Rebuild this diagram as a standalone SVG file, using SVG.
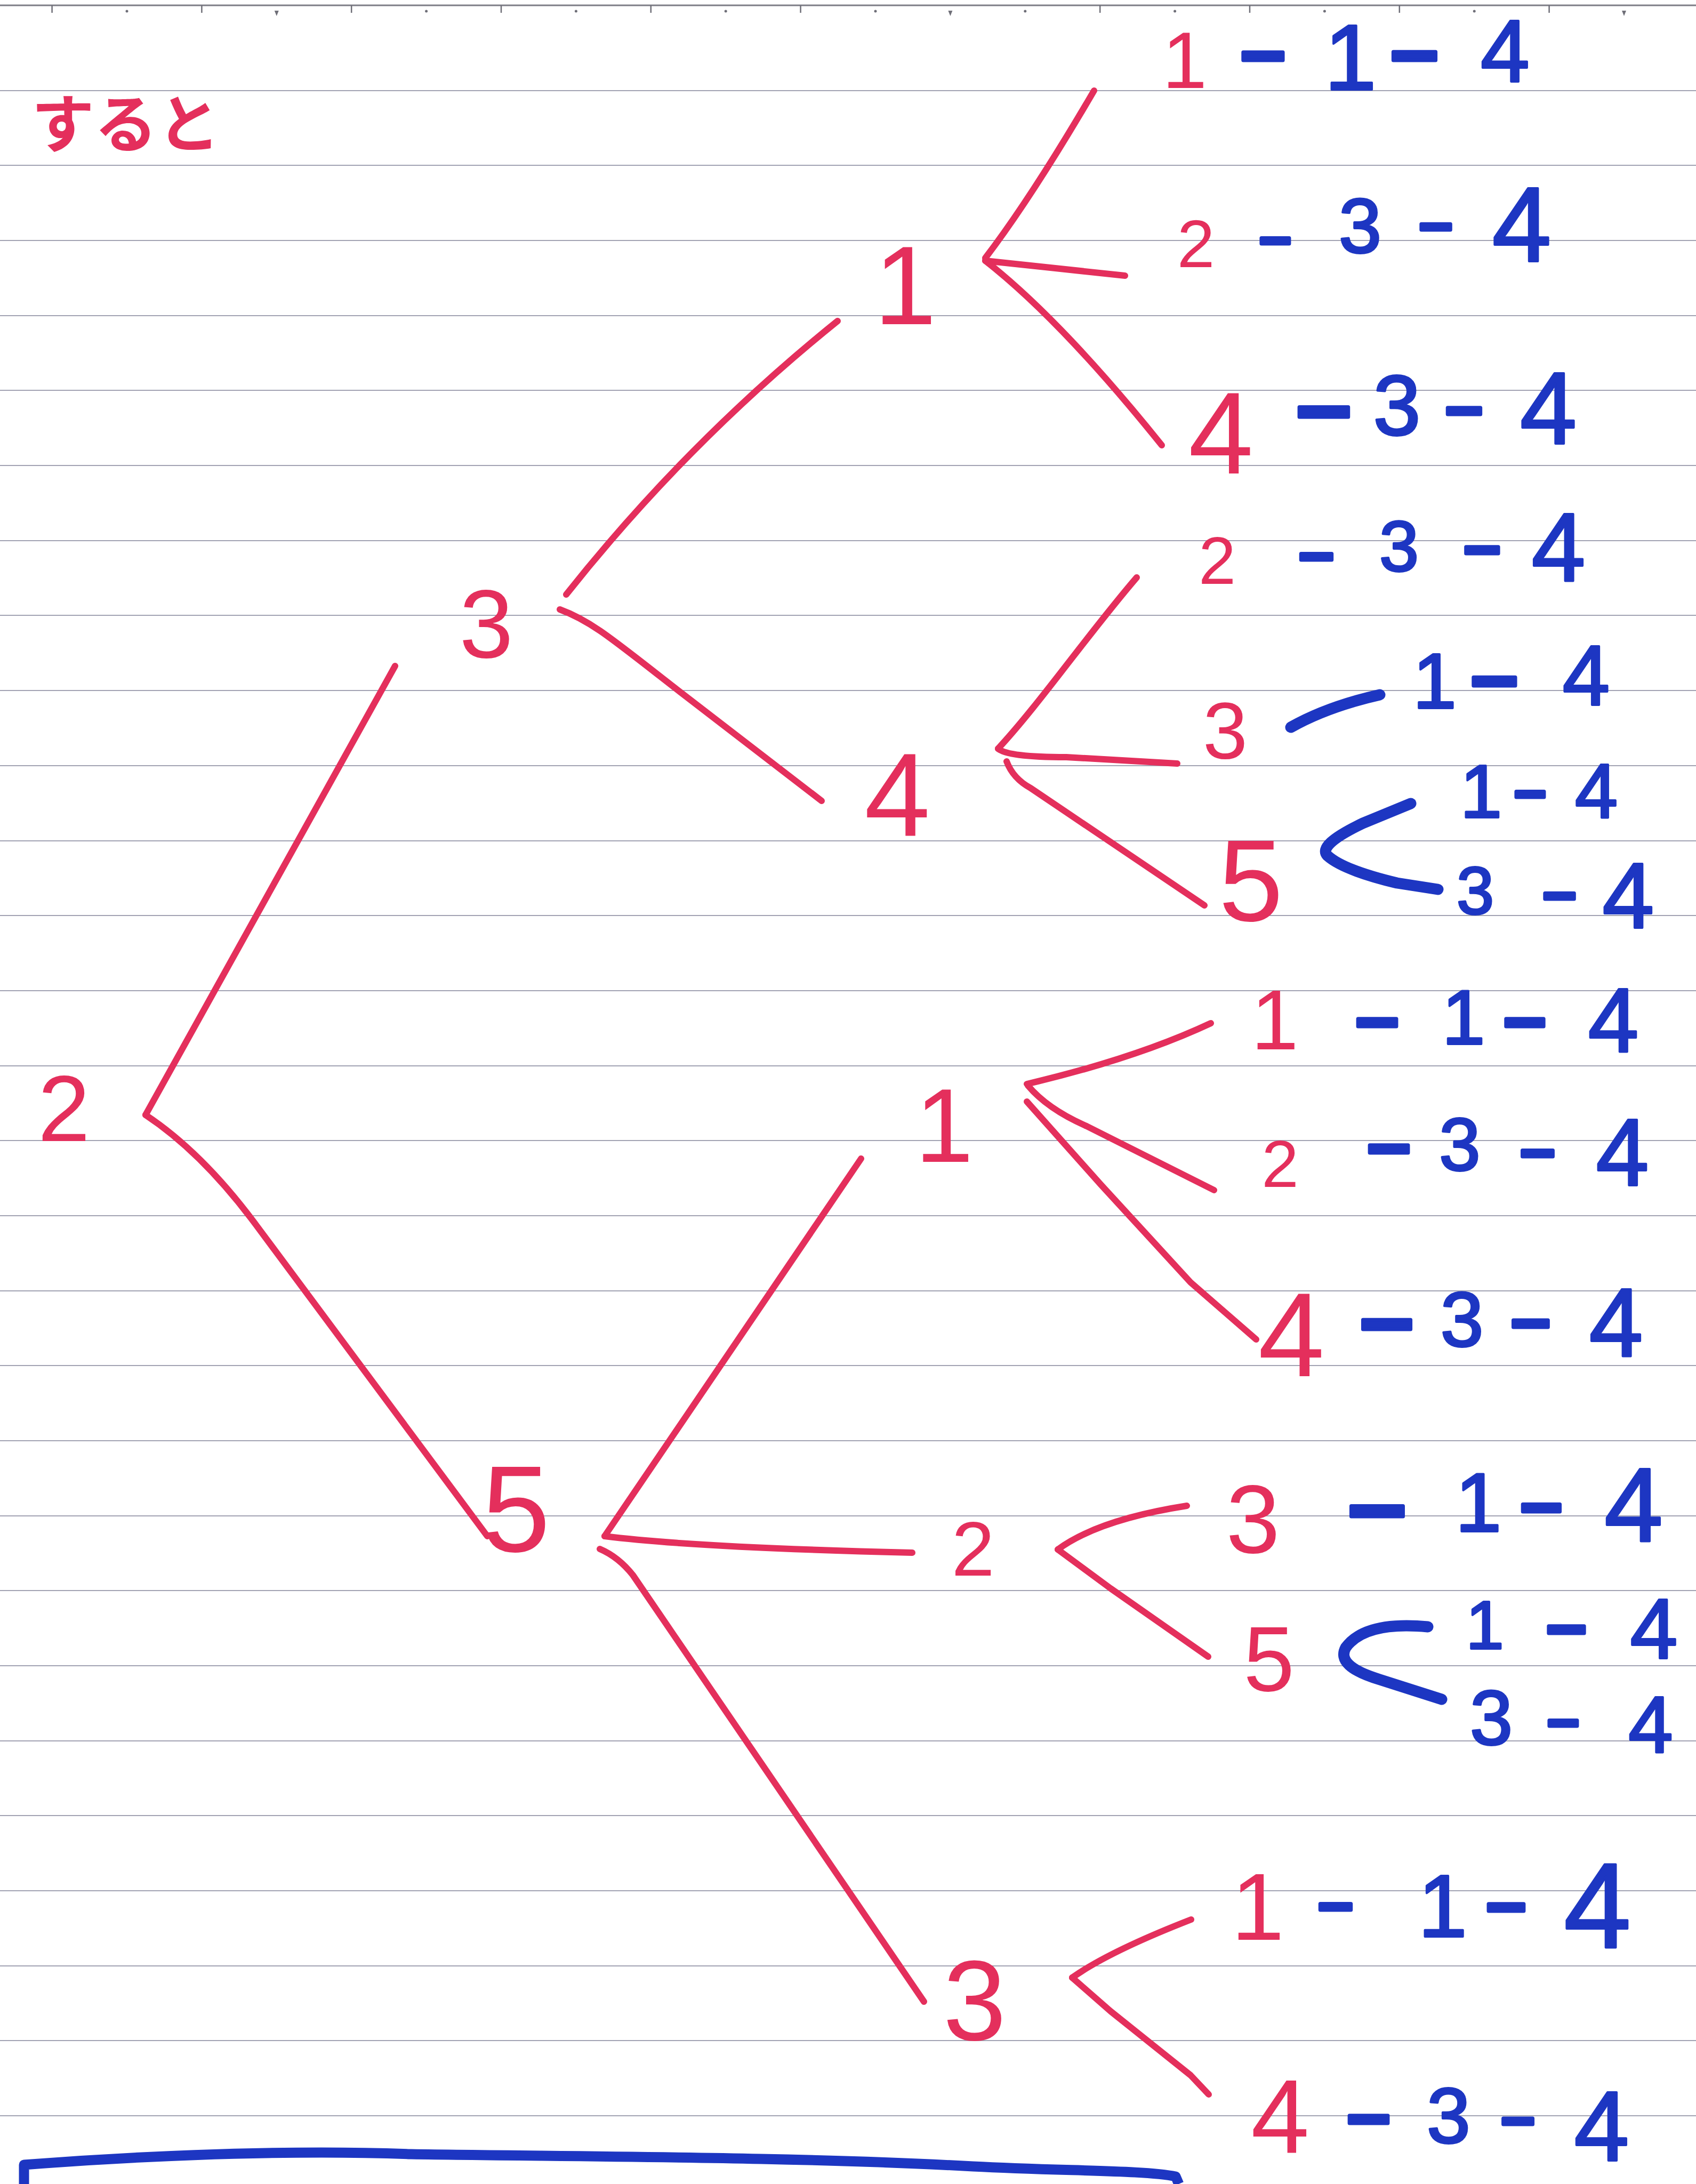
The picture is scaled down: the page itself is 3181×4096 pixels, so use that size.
<svg xmlns="http://www.w3.org/2000/svg" width="3181" height="4096" viewBox="0 0 3181 4096">
<defs>
<style>
text { font-family: "Liberation Sans", Arial, sans-serif; text-anchor: middle; }
.r { fill: #e42f5c; stroke: none; }
.b { fill: #1d36c2; stroke: #1d36c2; stroke-width: 4; stroke-linejoin: round; }
.d { font-weight: 700; stroke-width: 7; }
.jp { font-family: "Noto Sans CJK JP", "Noto Sans", sans-serif; text-anchor: start; font-weight: 700; fill: #e42f5c; }
.lr { stroke: #e42f5c; stroke-width: 12; fill: none; stroke-linecap: round; stroke-linejoin: round; }
.lb { stroke: #1d36c2; stroke-width: 21; fill: none; stroke-linecap: round; stroke-linejoin: round; }
.rule { stroke: #a2a3b3; stroke-width: 2; fill: none; }
.tick { stroke: #6f6f78; stroke-width: 2.5; fill: none; }
</style>
</defs>
<rect width="3181" height="4096" fill="#ffffff"/>
<g id="paper">
<line x1="0" y1="10" x2="3181" y2="10" stroke="#7d7d86" stroke-width="3"/>
<path class="tick" d="M97.6 10 V24 M378.4 10 V24 M659.2 10 V24 M940 10 V24 M1220.8 10 V24 M1501.6 10 V24 M2063.2 10 V24 M2344 10 V24 M2624.8 10 V24 M2905.6 10 V24"/>
<g fill="#6f6f78">
<circle cx="238" cy="21" r="2.5"/><circle cx="799.6" cy="21" r="2.5"/><circle cx="1080.4" cy="21" r="2.5"/><circle cx="1361.2" cy="21" r="2.5"/><circle cx="1642" cy="21" r="2.5"/><circle cx="1922.8" cy="21" r="2.5"/><circle cx="2203.6" cy="21" r="2.5"/><circle cx="2484.4" cy="21" r="2.5"/><circle cx="2765.2" cy="21" r="2.5"/>
<path d="M514.8 20 H522.8 L518.8 30 Z M1778.4 20 H1786.4 L1782.4 30 Z M3042 20 H3050 L3046 30 Z"/>
</g>
<path class="rule" d="M0 170 H3181 M0 310 H3181 M0 451 H3181 M0 592 H3181 M0 732 H3181 M0 873 H3181 M0 1014 H3181 M0 1154 H3181 M0 1295 H3181 M0 1436 H3181 M0 1577 H3181 M0 1717 H3181 M0 1858 H3181 M0 1999 H3181 M0 2139 H3181 M0 2280 H3181 M0 2421 H3181 M0 2561 H3181 M0 2702 H3181 M0 2843 H3181 M0 2983 H3181 M0 3124 H3181 M0 3265 H3181 M0 3405 H3181 M0 3546 H3181 M0 3687 H3181 M0 3827 H3181 M0 3968 H3181"/>
</g>
<g id="title"><text class="jp" x="59" y="276" font-size="118">すると</text></g>
<g id="connectors">
<path class="lr" d="M273 2091 L741 1249"/>
<path class="lr" d="M273 2091 Q380 2162 480 2297 L914 2881"/>
<path class="lr" d="M1062 1115 Q1288 830 1571 602"/>
<path class="lr" d="M1050 1143 C1110 1165 1150 1200 1276 1298 L1541 1502"/>
<path class="lr" d="M1848 484 Q1935 370 2052 170"/>
<path class="lr" d="M1848 489 L2110 517"/>
<path class="lr" d="M1848 489 Q1990 600 2179 835"/>
<path class="lr" d="M1872 1404 C1950 1320 2040 1190 2132 1083"/>
<path class="lr" d="M1872 1404 Q1890 1420 2000 1420 L2208 1432"/>
<path class="lr" d="M1888 1428 Q1900 1460 1933 1478 L2259 1698"/>
<path class="lr" d="M1134 2881 L1615 2173"/>
<path class="lr" d="M1134 2881 Q1300 2902 1711 2912"/>
<path class="lr" d="M1125 2905 Q1160 2920 1187 2954 L1733 3754"/>
<path class="lr" d="M1926 2033 Q2130 1985 2271 1919"/>
<path class="lr" d="M1928 2036 Q1965 2080 2038 2112 L2277 2232"/>
<path class="lr" d="M1926 2066 L2065 2222 L2233 2405 L2356 2512"/>
<path class="lr" d="M1984 2906 Q2060 2850 2226 2824"/>
<path class="lr" d="M1984 2906 L2083 2979 L2266 3107"/>
<path class="lr" d="M2011 3709 Q2080 3660 2234 3600"/>
<path class="lr" d="M2011 3709 L2083 3772 L2233 3892 L2267 3928"/>
<path class="lb" d="M2421 1364 Q2490 1325 2588 1303"/>
<path class="lb" d="M2646 1507 L2556 1544 Q2470 1585 2490 1605 Q2520 1632 2620 1656 L2697 1668"/>
<path class="lb" d="M2678 3051 Q2560 3040 2524 3090 Q2505 3125 2588 3150 L2704 3187"/>
</g>
<g id="nodes">
<g id="n-root"><text class="r" x="120" y="2140" font-size="176">2</text></g>
<g id="n-3a"><text class="r" x="912" y="1233" font-size="182">3</text></g>
<g id="n-1a"><text class="r" x="1698" y="608" font-size="210">1</text></g>
<g id="n-4a"><text class="r" x="1683" y="1568" font-size="222">4</text></g>
<g id="n-5"><text class="r" x="968" y="2910" font-size="230">5</text></g>
<g id="n-1b"><text class="r" x="1771" y="2179" font-size="196">1</text></g>
<g id="n-2b"><text class="r" x="1825" y="2955" font-size="145">2</text></g>
<g id="n-3b"><text class="r" x="1828" y="3826" font-size="213">3</text></g>
</g>
<g id="leaves">
<g id="leaf-a"><text class="b"><tspan class="r" x="2222" y="165" font-size="151">1</tspan><tspan class="d" x="2369" y="146" font-size="150">–</tspan><tspan x="2533" y="168" font-size="175">1</tspan><tspan class="d" x="2653" y="148" font-size="160">–</tspan><tspan x="2823" y="153" font-size="165">4</tspan></text></g>
<g id="leaf-b"><text class="b"><tspan class="r" x="2243" y="501" font-size="127">2</tspan><tspan class="d" x="2392" y="480" font-size="105">–</tspan><tspan x="2551" y="474" font-size="144">3</tspan><tspan class="d" x="2693" y="455" font-size="110">–</tspan><tspan x="2854" y="490" font-size="199">4</tspan></text></g>
<g id="leaf-c"><text class="b"><tspan class="r" x="2290" y="888" font-size="219">4</tspan><tspan class="d" x="2483" y="823" font-size="185">–</tspan><tspan x="2620" y="815" font-size="160">3</tspan><tspan class="d" x="2746" y="804" font-size="124">–</tspan><tspan x="2904" y="832" font-size="191">4</tspan></text></g>
<g id="leaf-d"><text class="b"><tspan class="r" x="2283" y="1095" font-size="126">2</tspan><tspan class="d" x="2469" y="1076" font-size="116">–</tspan><tspan x="2624" y="1071" font-size="133">3</tspan><tspan class="d" x="2780" y="1065" font-size="122">–</tspan><tspan x="2923" y="1089" font-size="181">4</tspan></text></g>
<g id="leaf-e"><text class="b"><tspan class="r" x="2298" y="1423" font-size="151">3</tspan><tspan x="2691" y="1328" font-size="147">1</tspan><tspan class="d" x="2803" y="1321" font-size="158">–</tspan><tspan x="2975" y="1322" font-size="159">4</tspan></text></g>
<g id="leaf-f"><text class="r" x="2346" y="1727" font-size="217">5</text>
<text class="b"><tspan x="2778" y="1533" font-size="141">1</tspan><tspan class="d" x="2870" y="1518" font-size="105">–</tspan><tspan x="2994" y="1534" font-size="144">4</tspan></text>
<text class="b"><tspan x="2767" y="1714" font-size="126">3</tspan><tspan class="d" x="2925" y="1710" font-size="110">–</tspan><tspan x="3054" y="1740" font-size="174">4</tspan></text></g>
<g id="leaf-g"><text class="b"><tspan class="r" x="2391" y="1968" font-size="160">1</tspan><tspan class="d" x="2583" y="1957" font-size="145">–</tspan><tspan x="2745" y="1958" font-size="145">1</tspan><tspan class="d" x="2860" y="1956" font-size="142">–</tspan><tspan x="3026" y="1973" font-size="170">4</tspan></text></g>
<g id="leaf-h"><text class="b"><tspan class="r" x="2401" y="2226" font-size="125">2</tspan><tspan class="d" x="2605" y="2194" font-size="145">–</tspan><tspan x="2738" y="2195" font-size="139">3</tspan><tspan class="d" x="2884" y="2194" font-size="115">–</tspan><tspan x="3043" y="2223" font-size="178">4</tspan></text></g>
<g id="leaf-i"><text class="b"><tspan class="r" x="2422" y="2581" font-size="224">4</tspan><tspan class="d" x="2601" y="2532" font-size="180">–</tspan><tspan x="2742" y="2525" font-size="145">3</tspan><tspan class="d" x="2871" y="2518" font-size="131">–</tspan><tspan x="3031" y="2543" font-size="181">4</tspan></text></g>
<g id="leaf-j"><text class="b"><tspan class="r" x="2350" y="2912" font-size="182">3</tspan><tspan class="d" x="2583" y="2887" font-size="196">–</tspan><tspan x="2773" y="2872" font-size="156">1</tspan><tspan class="d" x="2891" y="2865" font-size="140">–</tspan><tspan x="3064" y="2891" font-size="197">4</tspan></text></g>
<g id="leaf-k"><text class="r" x="2380" y="3171" font-size="172">5</text>
<text class="b"><tspan x="2785" y="3092" font-size="128">1</tspan><tspan class="d" x="2938" y="3092" font-size="134">–</tspan><tspan x="3102" y="3110" font-size="160">4</tspan></text>
<text class="b"><tspan x="2797" y="3272" font-size="144">3</tspan><tspan class="d" x="2932" y="3260" font-size="105">–</tspan><tspan x="3096" y="3286" font-size="150">4</tspan></text></g>
<g id="leaf-l"><text class="b"><tspan class="r" x="2359" y="3638" font-size="179">1</tspan><tspan class="d" x="2505" y="3608" font-size="116">–</tspan><tspan x="2706" y="3632" font-size="165">1</tspan><tspan class="d" x="2825" y="3613" font-size="133">–</tspan><tspan x="2996" y="3652" font-size="226">4</tspan></text></g>
<g id="leaf-m"><text class="b"><tspan class="r" x="2401" y="4038" font-size="197">4</tspan><tspan class="d" x="2567" y="4014" font-size="145">–</tspan><tspan x="2717" y="4019" font-size="147">3</tspan><tspan class="d" x="2847" y="4008" font-size="111">–</tspan><tspan x="3004" y="4052" font-size="185">4</tspan></text></g>
</g>
<g id="box"><path d="M45 4096 L45 4060 C200 4048 500 4030 771 4040 C1100 4045 1500 4045 1825 4063 C2000 4072 2150 4070 2205 4082 L2211 4096" fill="none" stroke="#1d36c2" stroke-width="19" stroke-linejoin="round"/></g>
</svg>
